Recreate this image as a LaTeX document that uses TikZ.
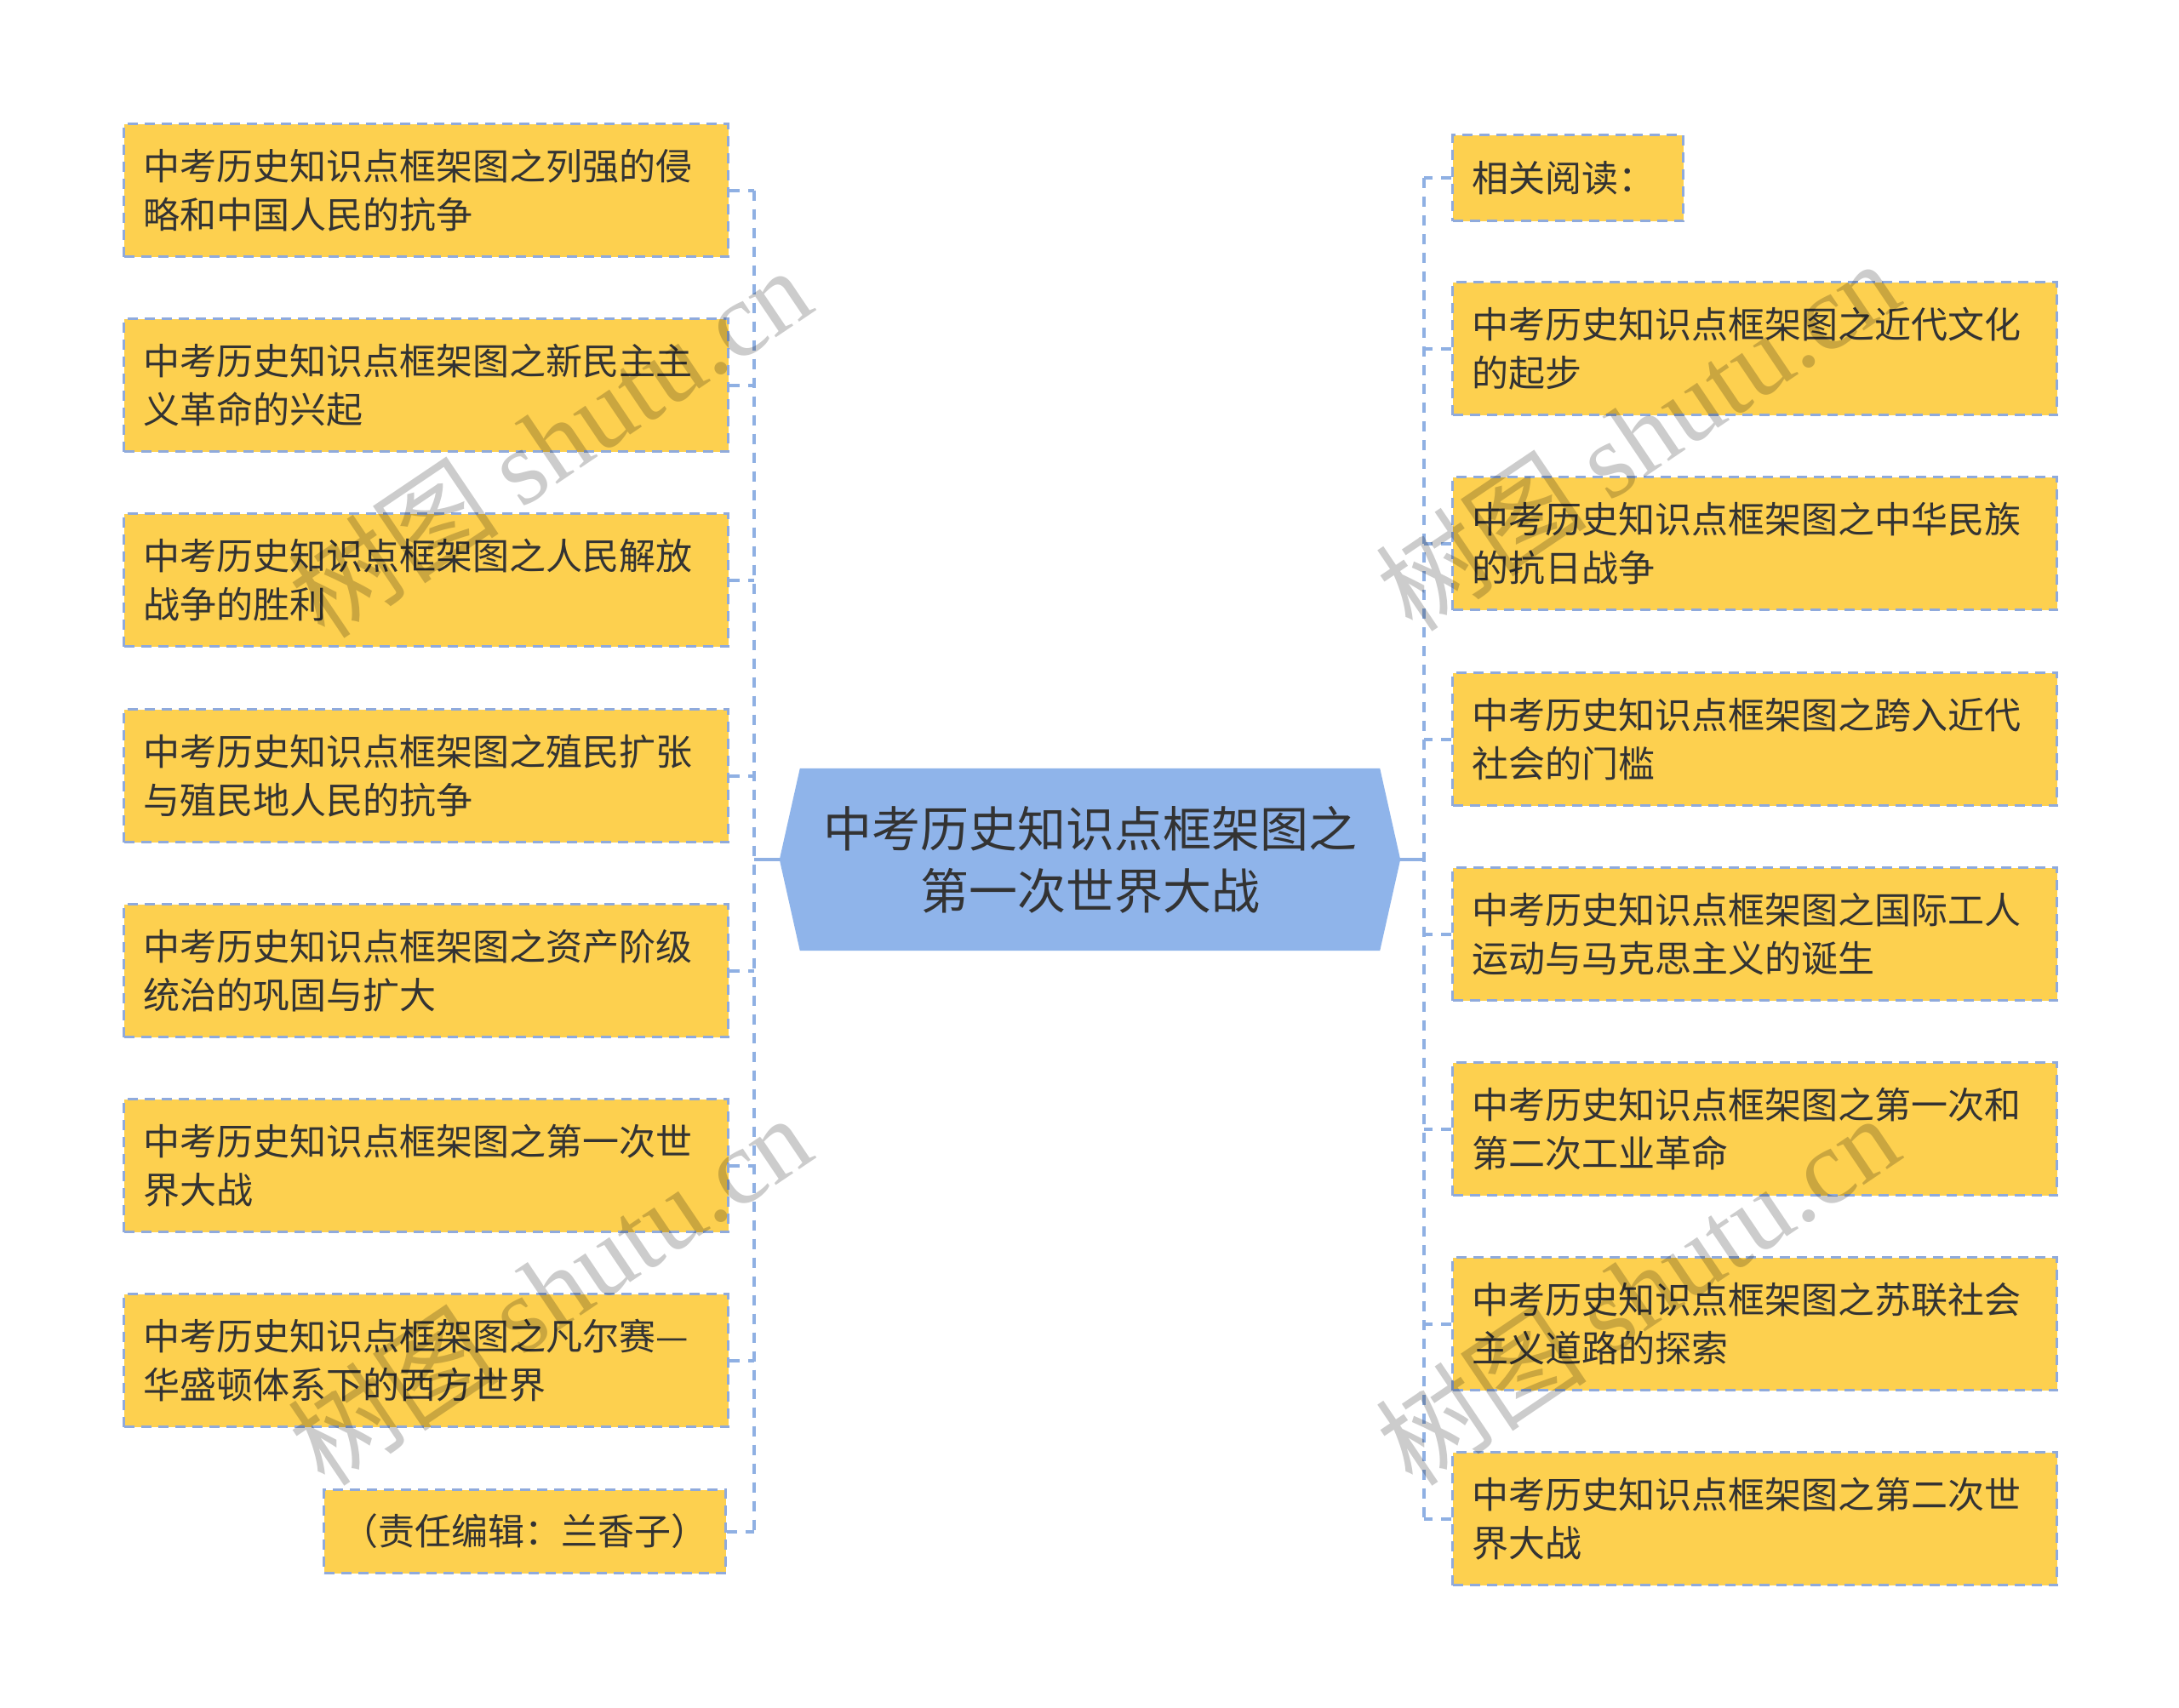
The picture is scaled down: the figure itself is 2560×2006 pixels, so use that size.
\documentclass[tikz,border=0pt]{standalone}
\usepackage{fontspec}
\setmainfont{Noto Sans CJK SC}
\newfontfamily\wmlatin{Liberation Serif}
\usetikzlibrary{backgrounds}
\definecolor{boxfill}{HTML}{FDD04F}
\definecolor{boxline}{HTML}{8FAADC}
\definecolor{connc}{HTML}{8FB0E3}
\definecolor{hubfill}{HTML}{8FB4EA}
\definecolor{txt}{HTML}{333333}
\tikzset{
  leaf/.style={draw=boxline, line width=3pt, dash pattern=on 12pt off 8pt,
    fill=boxfill, text=txt, font=\fontsize{43}{57}\selectfont, align=left,
    text width=664pt, inner xsep=23pt, inner ysep=0pt, minimum height=156pt,
    anchor=north west},
  hub/.style={text=txt, font=\fontsize{57}{73}\selectfont, align=center,
    minimum width=729pt, minimum height=214pt, inner sep=0pt},
  conn/.style={draw=connc, line width=4pt, dash pattern=on 12pt off 10pt},
  stub/.style={draw=connc, line width=4pt},
  wm/.style={text=black, text opacity=0.2, font=\fontsize{125}{125}\selectfont,
    rotate=34, inner sep=0pt}
}
\begin{document}
\begin{tikzpicture}[x=1pt,y=-1pt]
\useasboundingbox (0,0) rectangle (2560,2006);

% centre
\node[hub] (c) at (1280.5,1010) {中考历史知识点框架图之\\第一次世界大战};
\begin{scope}[on background layer]
\fill[white] (0,0) rectangle (2560,2006);
\fill[hubfill] (c.west) -- ([xshift=24pt]c.north west) -- ([xshift=-24pt]c.north east)
  -- (c.east) -- ([xshift=-24pt]c.south east) -- ([xshift=24pt]c.south west) -- cycle;
\end{scope}

% left leaves
\node[leaf] (l1) at (144,144) {中考历史知识点框架图之列强的侵\\略和中国人民的抗争};
\node[leaf] (l2) at (144,373) {中考历史知识点框架图之新民主主\\义革命的兴起};
\node[leaf] (l3) at (144,602) {中考历史知识点框架图之人民解放\\战争的胜利};
\node[leaf] (l4) at (144,832) {中考历史知识点框架图之殖民扩张\\与殖民地人民的抗争};
\node[leaf] (l5) at (144,1061) {中考历史知识点框架图之资产阶级\\统治的巩固与扩大};
\node[leaf] (l6) at (144,1290) {中考历史知识点框架图之第一次世\\界大战};
\node[leaf] (l7) at (144,1519) {中考历史知识点框架图之凡尔赛—\\华盛顿体系下的西方世界};
\node[leaf, anchor=north east, text width=452pt, inner xsep=10pt, minimum height=98pt, align=center] (l8) at (854,1749) {（责任编辑：兰香子）};

% right leaves
\node[leaf, text width=225pt, inner xsep=23pt, minimum height=101pt] (r0) at (1705,157) {相关阅读：};
\node[leaf] (r1) at (1705,330) {中考历史知识点框架图之近代文化\\的起步};
\node[leaf] (r2) at (1705,559) {中考历史知识点框架图之中华民族\\的抗日战争};
\node[leaf] (r3) at (1705,789) {中考历史知识点框架图之跨入近代\\社会的门槛};
\node[leaf] (r4) at (1705,1018) {中考历史知识点框架图之国际工人\\运动与马克思主义的诞生};
\node[leaf] (r5) at (1705,1247) {中考历史知识点框架图之第一次和\\第二次工业革命};
\node[leaf] (r6) at (1705,1476) {中考历史知识点框架图之苏联社会\\主义道路的探索};
\node[leaf] (r7) at (1705,1705) {中考历史知识点框架图之第二次世\\界大战};

% buses
\coordinate (lx) at (886,0);
\coordinate (rx) at (1673,0);
\draw[stub] (c.west) -- (c.west -| lx);
\draw[stub] (c.east) -- (c.east -| rx);
\draw[conn] (l1.east -| lx) -- (l8.east -| lx);
\draw[conn] (r0.west -| rx) -- (r7.west -| rx);
\foreach \n in {l1,l2,l3,l4,l5,l6,l7,l8} {
  \draw[conn] (\n.east) -- (\n.east -| lx);
}
\foreach \n in {r0,r1,r2,r3,r4,r5,r6,r7} {
  \draw[conn] (\n.west) -- (\n.west -| rx);
}

% watermarks
\node[wm] (w1) at (645,519) {树图 {\wmlatin shutu.cn}};
\node[wm] (w2) at (645,1515) {树图 {\wmlatin shutu.cn}};
\node[wm] (w3) at (1923,511) {树图 {\wmlatin shutu.cn}};
\node[wm] (w4) at (1923,1515) {树图 {\wmlatin shutu.cn}};
\end{tikzpicture}
\end{document}
